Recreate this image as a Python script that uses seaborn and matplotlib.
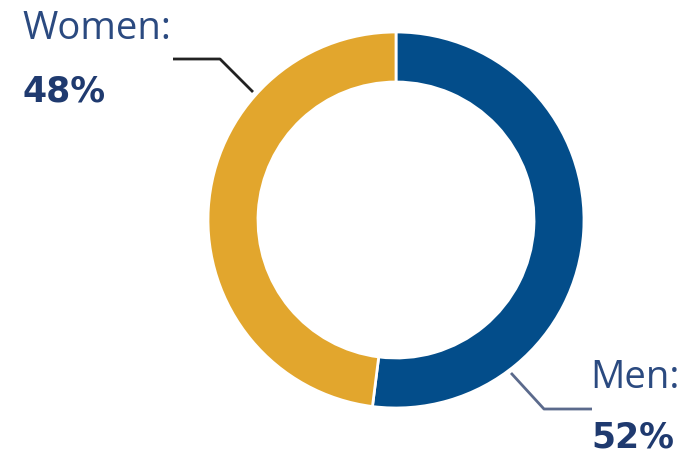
import matplotlib
matplotlib.use("Agg")
import matplotlib.pyplot as plt
import seaborn as sns

categories = ["Men", "Women"]
shares = [52, 48]
colors = ["#034d8a", "#e2a62d"]

sns.set_theme(style="white")
plt.rcParams["font.family"] = ["Open Sans", "DejaVu Sans"]

W, H = 685, 455
fig = plt.figure(figsize=(W / 100, H / 100), dpi=100)
ax = fig.add_axes([0, 0, 1, 1])

cx, cy, r = 396, H - 220, 188
ax.pie(shares, colors=colors, startangle=90, counterclock=False,
       center=(cx, cy), radius=r,
       wedgeprops=dict(width=50, edgecolor="white", linewidth=2))
ax.set_xlim(0, W)
ax.set_ylim(0, H)
ax.set_aspect("equal")
ax.axis("off")

label_col = "#2b4a80"
value_col = "#1f3a6f"
label_kw = dict(fontsize=27.5, color=label_col, ha="left", va="baseline")
value_kw = dict(fontsize=25, fontweight="bold", color=value_col,
                ha="left", va="baseline", family=["DejaVu Sans"])

# Women label and leader
ax.text(22, H - 39, f"{categories[1]}:", **label_kw)
ax.text(23, H - 102, f"{shares[1]}%", **value_kw)
ax.plot([173, 220, 253], [H - 59, H - 59, H - 92], color="#222222", lw=2,
        solid_capstyle="butt")

# Men label and leader
ax.text(590, H - 388, f"{categories[0]}:", **label_kw)
ax.text(591, H - 448, f"{shares[0]}%", **value_kw)
ax.plot([511, 544, 592], [H - 373, H - 409, H - 409], color="#5b6a8c", lw=2,
        solid_capstyle="butt")

fig.savefig("out.png", dpi=100, facecolor="white")
